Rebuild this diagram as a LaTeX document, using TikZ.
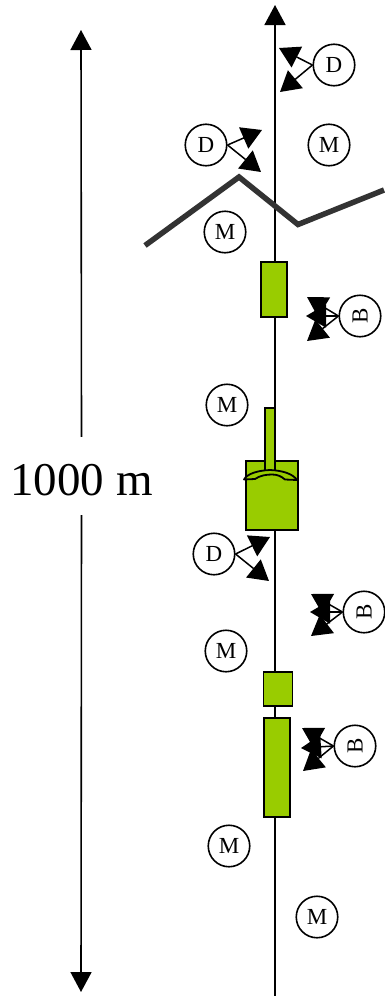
\documentclass[tikz,border=0pt]{standalone}
\usepackage{fontspec}
\setmainfont{Liberation Serif}
\usetikzlibrary{arrows.meta}
\tikzset{
  x=1pt,y=-1pt,
  circ/.style={draw=black,fill=white,circle,line width=1.6pt,minimum size=41.5pt,inner sep=0pt,font=\fontsize{23}{23}\selectfont},
  long/.style={draw=black,line width=1.6pt,-{Triangle[length=20pt,width=21pt]}},
  tiphead/.style={draw=black,line width=1.5pt,-{Triangle[length=20pt,width=23pt]}},
  green/.style={draw=black,fill=partgreen,line width=1.8pt},
  ridge/.style={draw=ridgegray,line width=5.5pt,line join=miter},
}
\definecolor{partgreen}{HTML}{99CC00}
\definecolor{ridgegray}{HTML}{333333}
\begin{document}
\begin{tikzpicture}
\useasboundingbox (0,0) rectangle (384,996);
% coordinates of free ends
\coordinate (wellbot) at (275,996);
\coordinate (welltop) at (275,5);
\coordinate (scaletop) at (81,30);
\coordinate (scalebot) at (81,992);
\coordinate (r1) at (145,245.5);
\coordinate (r2) at (239,177);
\coordinate (r3) at (298,224.5);
\coordinate (r4) at (384,190);
% well line
\draw[long] (wellbot) -- (welltop);
% scale
\node[minimum height=78pt,minimum width=143pt,inner sep=0pt,font=\fontsize{47}{47}\selectfont] (len) at (81.5,476) {\raisebox{-19pt}[0pt][0pt]{1000 m}};
\draw[long] (len.north) -- (scaletop);
\draw[long] (len.south) -- (scalebot);
% ridge
\draw[ridge] (r1) -- (r2) -- (r3) -- (r4);
% equipment
\node[green,minimum width=26pt,minimum height=55pt,inner sep=0pt] (box1) at (274,289.5) {};
\node[green,minimum width=52pt,minimum height=69pt,inner sep=0pt] (body) at (272,495.5) {};
\node[green,minimum width=10pt,minimum height=63pt,inner sep=0pt] (rod) at (270,439.5) {};
\node[green,minimum width=29pt,minimum height=34pt,inner sep=0pt] (box2) at (278,689) {};
\node[green,minimum width=26pt,minimum height=99pt,inner sep=0pt] (box3) at (277,767.5) {};
\draw[green,line join=round] (244,479.5) .. controls (247,474) and (257,470.5) .. (270,470) .. controls (283,470.5) and (293,474) .. (297,480) -- (285,479.5) .. controls (281,476) and (277,474.5) .. (272,474.5) .. controls (266,474.5) and (260,475.5) .. (255,479) -- cycle;
% circles
\node[circ] (d1) at (334,65) {D};
\node[circ] (m1) at (329,145) {M};
\node[circ] (d2) at (206,145) {D};
\node[circ] (m2) at (225,232) {M};
\node[circ] (b1) at (360,316) {\rotatebox{90}{B}};
\node[circ] (m3) at (227,405) {M};
\node[circ] (d3) at (214,554) {D};
\node[circ] (b2) at (364,612) {\rotatebox{90}{B}};
\node[circ] (m4) at (226,651) {M};
\node[circ] (b3) at (355,746) {\rotatebox{90}{B}};
\node[circ] (m5) at (229,846) {M};
\node[circ] (m6) at (317,917) {M};
% arrow ends
\coordinate (d1a) at (279,48);
\coordinate (d1b) at (280,92);
\coordinate (d2a) at (262,130);
\coordinate (d2b) at (261,172);
\coordinate (d3a) at (270,537);
\coordinate (d3b) at (269,581);
\coordinate (b1a) at (307,297);
\coordinate (b1b) at (306,316);
\coordinate (b1c) at (307,341);
\coordinate (b2a) at (311,594);
\coordinate (b2b) at (310,612);
\coordinate (b2c) at (311,636);
\coordinate (b3a) at (302,728);
\coordinate (b3b) at (301,748);
\coordinate (b3c) at (303,771);
\foreach \s/\t in {d1/d1a,d1/d1b,b1/b1a,b1/b1b,b1/b1c,b2/b2a,b2/b2b,b2/b2c,b3/b3a,b3/b3b,b3/b3c}
  \draw[tiphead] (\s.west) -- (\t);
\foreach \s/\t in {d2/d2a,d2/d2b,d3/d3a,d3/d3b}
  \draw[tiphead] (\s.east) -- (\t);
\end{tikzpicture}
\end{document}
